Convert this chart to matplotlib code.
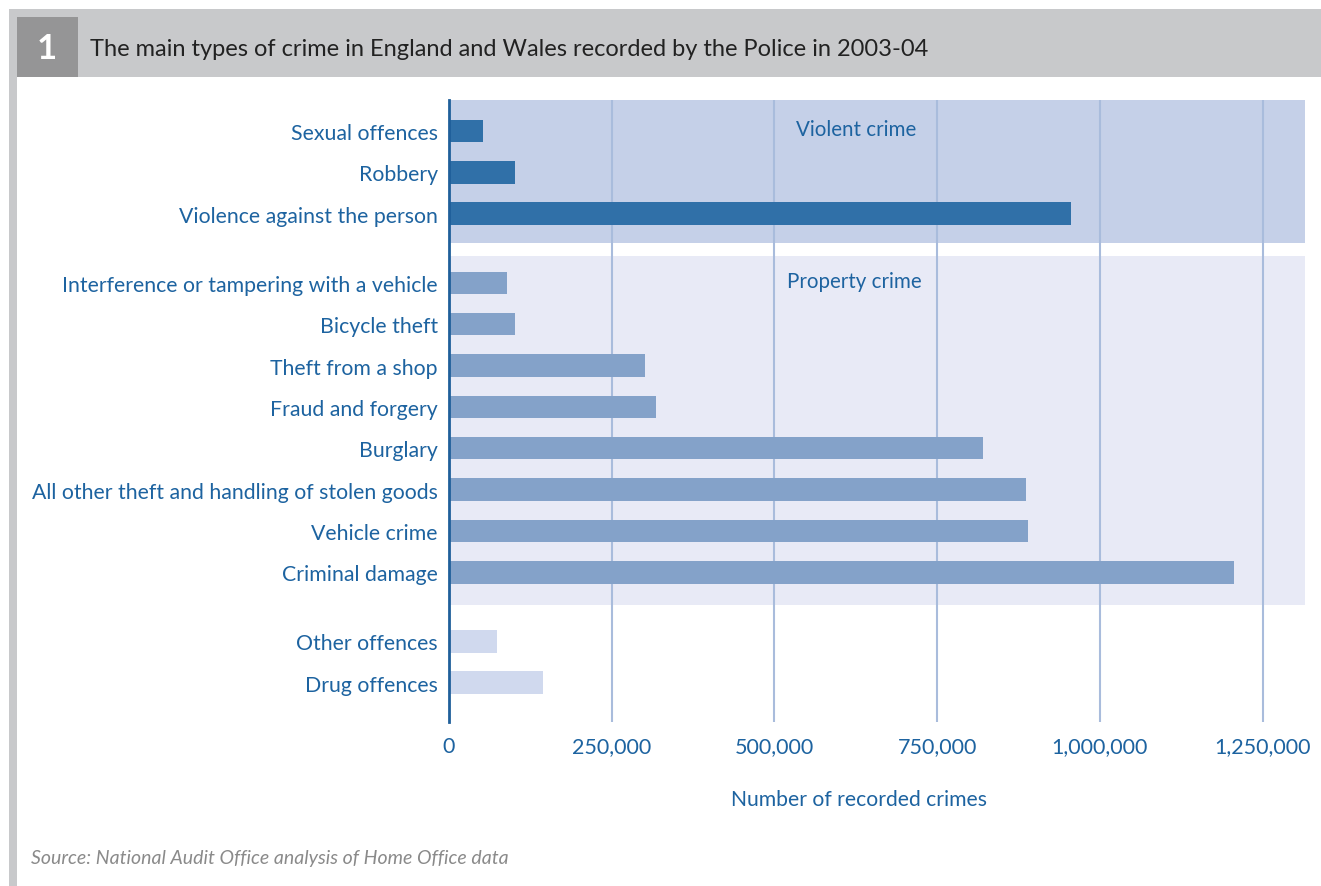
import matplotlib

matplotlib.use("Agg")
import matplotlib.pyplot as plt
from matplotlib.patches import Rectangle
from matplotlib.ticker import FuncFormatter

plt.rcParams["font.family"] = ["Lato", "DejaVu Sans"]

# recorded crimes 2003-04
violent = ["Sexual offences", "Robbery", "Violence against the person"]
violent_vals = [52000, 101000, 956000]
property_ = ["Interference or tampering with a vehicle", "Bicycle theft",
             "Theft from a shop", "Fraud and forgery", "Burglary",
             "All other theft and handling of stolen goods", "Vehicle crime",
             "Criminal damage"]
property_vals = [89000, 101000, 301000, 318000, 820000, 887000, 890000, 1206000]
other = ["Other offences", "Drug offences"]
other_vals = [73000, 144000]
ticks = [0, 250000, 500000, 750000, 1000000, 1250000]

W, H = 1321, 887
TEXT = "#1d63a0"

fig = plt.figure(figsize=(W / 100, H / 100), dpi=100)
fig.patch.set_facecolor("white")


def px(x, y, w, h):
    return [x / W, 1 - (y + h) / H, w / W, h / H]


# header frame
fig.add_artist(Rectangle((9 / W, 1 - 78 / H), 1 - 9 / W, 68 / H,
                         transform=fig.transFigure, color="#c8c9cb", lw=0))
fig.add_artist(Rectangle((9 / W, 0), 8 / W, 1 - 78 / H,
                         transform=fig.transFigure, color="#c8c9cb", lw=0))
fig.add_artist(Rectangle((17 / W, 1 - 78 / H), 61 / W, 60 / H,
                         transform=fig.transFigure, color="#959596", lw=0))
fig.text(47 / W, 1 - 49 / H, "1", color="white", fontsize=25,
         fontweight="bold", ha="center", va="center")
fig.text(90 / W, 1 - 49 / H,
         "The main types of crime in England and Wales recorded by the Police in 2003-04",
         color="#222222", fontsize=17, ha="left", va="center")

ax = fig.add_axes(px(449, 101, 856, 622))

gap = 0.67
groups = [(violent, violent_vals, "#3070a8"),
          (property_, property_vals, "#84a2c9"),
          (other, other_vals, "#d0d9ee")]
labels, pos = [], []
y = 0.0
spans = []
for names, vals, col in groups:
    ys = [y + i for i in range(len(names))]
    ax.barh(ys, vals, height=0.545, color=col, zorder=3)
    labels += names
    pos += ys
    spans.append((ys[0], ys[-1]))
    y = ys[-1] + 1 + gap

ax.axhspan(spans[0][0] - 0.75, spans[0][1] + 0.7, color="#c5d0e8", lw=0, zorder=0)
ax.axhspan(spans[1][0] - 0.66, spans[1][1] + 0.8, color="#e8eaf6", lw=0, zorder=0)

for t in ticks[1:]:
    ax.axvline(t, color="#a9bcdc", lw=1.5, zorder=1)

ax.set_xlim(0, 1315000)
ax.set_ylim(spans[2][1] + 0.95, spans[0][0] - 0.75)
ax.set_yticks(pos)
ax.set_yticklabels(labels)
ax.set_xticks(ticks)
ax.xaxis.set_major_formatter(FuncFormatter(lambda v, _: f"{int(v):,}"))
ax.tick_params(axis="y", length=0, labelsize=15.3, labelcolor=TEXT, pad=8)
ax.tick_params(axis="x", length=0, labelsize=15.5, labelcolor=TEXT, pad=10)
ax.set_facecolor("none")
for s in ("top", "right", "bottom"):
    ax.spines[s].set_visible(False)
ax.spines["left"].set_color("#1f5f9a")
ax.spines["left"].set_linewidth(2)
ax.spines["left"].set_zorder(4)

ax.text(625000, spans[0][0] - 0.05, "Violent crime", color=TEXT, fontsize=14.8,
        ha="center", va="center")
ax.text(622000, spans[1][0] - 0.05, "Property crime", color=TEXT, fontsize=14.8,
        ha="center", va="center")

fig.text(859 / W, 1 - 800 / H, "Number of recorded crimes", color=TEXT,
         fontsize=15.2, ha="center", va="center")
fig.text(31 / W, 1 - 859 / H, "Source: National Audit Office analysis of Home Office data",
         color="#8a8a8a", fontsize=14, style="italic", ha="left", va="center")

fig.savefig("out.png", dpi=100)
